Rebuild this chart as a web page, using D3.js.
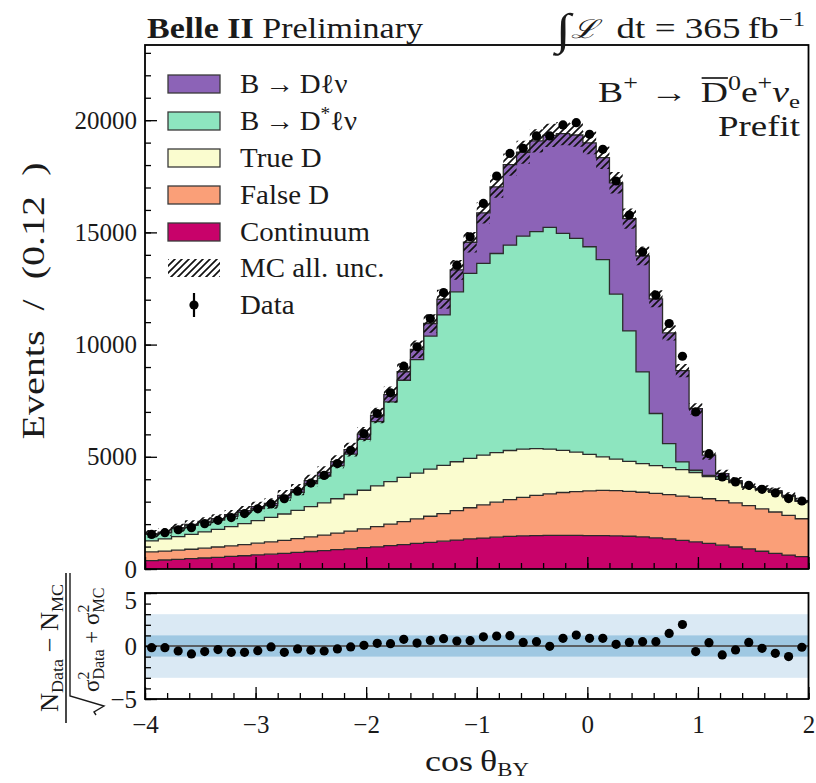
<!DOCTYPE html>
<html>
<head>
<meta charset="utf-8">
<script src="https://cdn.jsdelivr.net/npm/d3@7/dist/d3.min.js"></script>
<style>
  html, body { margin: 0; padding: 0; background: #ffffff; }
  svg { display: block; }
  text { font-family: "Liberation Serif", "DejaVu Serif", serif; fill: #1a1a1a; }
</style>
</head>
<body>
<svg id="chart" width="816" height="783"></svg>
<script>
// cos(theta_BY) binning: 50 bins of 0.12 from -4 to 2
const binStart = -4.0;
const binWidth = 0.12;

// stacked MC templates (events per bin), bottom to top
const continuum = [370, 400, 430, 460, 490, 520, 560, 590, 630, 660, 700, 740, 780, 820, 860, 900, 950, 990, 1040, 1090,
  1140, 1190, 1240, 1290, 1340, 1380, 1420, 1450, 1480, 1490, 1500, 1500, 1500, 1490, 1490, 1480, 1460, 1430, 1390, 1340,
  1280, 1210, 1140, 1060, 980, 900, 790, 700, 620, 550];
const falseD = [390, 400, 410, 420, 440, 460, 470, 500, 520, 550, 580, 610, 650, 690, 740, 790, 840, 900, 960, 1020,
  1090, 1160, 1230, 1310, 1390, 1480, 1560, 1640, 1710, 1790, 1850, 1910, 1950, 1990, 2010, 2010, 2000, 1990, 1980, 1970,
  1970, 1980, 1990, 1990, 1970, 1920, 1890, 1840, 1770, 1690];
const trueD = [490, 540, 600, 660, 720, 790, 860, 930, 1010, 1090, 1170, 1260, 1350, 1440, 1530, 1630, 1720, 1810, 1890, 1970,
  2040, 2100, 2150, 2180, 2200, 2210, 2210, 2190, 2150, 2080, 1990, 1880, 1760, 1630, 1500, 1410, 1340, 1280, 1240, 1210,
  1180, 1110, 990, 950, 900, 820, 850, 880, 840, 770];
const bToDstarLnu = [290, 270, 360, 400, 420, 410, 460, 500, 530, 520, 720, 810, 1020, 1190, 1470, 1800, 2270, 2870, 3560, 4330,
  5060, 5930, 6700, 7570, 8240, 8550, 8870, 9150, 9490, 9670, 9880, 9670, 9520, 9250, 8790, 7350, 5810, 4080, 2320, 1070,
  340, 100, 50, 120, 50, 20, 30, 40, 30, 20];
const bToDLnu = [30, 35, 40, 45, 50, 60, 70, 80, 90, 100, 110, 120, 140, 160, 180, 200, 230, 270, 320, 380,
  460, 560, 700, 980, 1390, 2250, 2970, 3590, 3740, 4050, 4100, 4440, 4610, 4630, 4540, 4960, 5000, 5170, 5110, 4930,
  4070, 2740, 900, 130, 40, 15, 25, 35, 25, 15];

// observed events per bin
const dataCounts = [1540, 1620, 1750, 1840, 2020, 2170, 2290, 2470, 2680, 2900, 3130, 3470, 3830, 4170, 4700, 5290, 6030, 6930, 7850, 9040,
  9900, 11160, 12320, 13540, 14800, 16290, 17510, 18520, 18750, 19300, 19300, 19790, 19890, 19370, 18700, 17290, 15770, 14130, 12200, 10940,
  9480, 7000, 5140, 4100, 3880, 3730, 3550, 3390, 3140, 3030];

// total MC uncertainty (half width of the hatched band)
const mcUncertainty = [170, 175, 180, 185, 190, 200, 205, 210, 220, 230, 240, 250, 260, 275, 290, 305, 320, 340, 360, 380,
  390, 410, 420, 440, 460, 470, 490, 500, 510, 520, 520, 520, 520, 510, 500, 480, 450, 420, 380, 340,
  300, 250, 200, 170, 160, 150, 145, 140, 135, 130];

// pulls (N_Data - N_MC) / sqrt(sigma_Data^2 + sigma_MC^2)
const pulls = [-0.16, -0.16, -0.47, -0.75, -0.53, -0.34, -0.60, -0.60, -0.44, -0.09, -0.60, -0.28, -0.40, -0.47, -0.28, -0.09, 0.06, 0.25, 0.22, 0.63,
  0.28, 0.53, 0.69, 0.47, 0.50, 0.87, 0.94, 0.97, 0.34, 0.41, -0.03, 0.72, 1.03, 0.72, 0.72, 0.16, 0.34, 0.41, 0.41, 1.19,
  2.03, -0.53, 0.31, -0.84, -0.37, 0.34, -0.22, -0.69, -1.00, -0.12];

const xTicksMajor = [-4, -3, -2, -1, 0, 1, 2];
const yTicksMain = [0, 5000, 10000, 15000, 20000];
const yTicksPull = [-5, 0, 5];

const components = [
  { key: "continuum", label: "Continuum", color: "#c8026a", values: continuum },
  { key: "falseD", label: "False D", color: "#fa9f78", values: falseD },
  { key: "trueD", label: "True D", color: "#fafccf", values: trueD },
  { key: "dstar", label: "B\u2009\u2192\u2009D*\u2113\u03BD", color: "#8de5bf", values: bToDstarLnu },
  { key: "d", label: "B\u2009\u2192\u2009D\u2113\u03BD", color: "#8c63b7", values: bToDLnu }
];

const svg = d3.select("#chart");
const left = 145, right = 808.5;
const mainTop = 45, mainBottom = 569;
const pullTop = 593, pullBottom = 699;

const x = d3.scaleLinear([-4, 2], [left, right]);
const y = d3.scaleLinear([0, 23350], [mainBottom, mainTop]);
const yp = d3.scaleLinear([-5, 5], [pullBottom, pullTop]);

const rows = dataCounts.map((n, i) => {
  const r = { i, x0: binStart + i * binWidth, x1: binStart + (i + 1) * binWidth, data: n, unc: mcUncertainty[i], pull: pulls[i] };
  components.forEach(c => { r[c.key] = c.values[i]; });
  return r;
});

const stack = d3.stack().keys(components.map(c => c.key));
const series = stack(rows);

const defs = svg.append("defs");
defs.append("clipPath").attr("id", "clipMain")
  .append("rect").attr("x", left).attr("y", mainTop).attr("width", right - left).attr("height", mainBottom - mainTop);
defs.append("clipPath").attr("id", "clipPull")
  .append("rect").attr("x", left).attr("y", pullTop).attr("width", right - left).attr("height", pullBottom - pullTop);
const pat = defs.append("pattern").attr("id", "hatch").attr("patternUnits", "userSpaceOnUse")
  .attr("width", 7).attr("height", 7);
pat.append("path").attr("d", "M-1,1 l2,-2 M0,7 l7,-7 M6,8 l2,-2")
  .attr("stroke", "#111").attr("stroke-width", 1.7).attr("fill", "none");

// step helpers: every bin contributes its two edges
const stepArea = d3.area().x(d => x(d.x)).y0(d => y(d.lo)).y1(d => y(d.hi));
const stepLine = d3.line().x(d => x(d.x)).y(d => y(d.hi));
function stepPoints(getLo, getHi) {
  return rows.flatMap(r => [
    { x: r.x0, lo: getLo(r), hi: getHi(r) },
    { x: r.x1, lo: getLo(r), hi: getHi(r) }
  ]);
}

const gMain = svg.append("g").attr("clip-path", "url(#clipMain)");

series.forEach((s, k) => {
  const pts = stepPoints(r => s[r.i][0], r => s[r.i][1]);
  gMain.append("path").attr("d", stepArea(pts)).attr("fill", components[k].color).attr("stroke", "none");
});
series.forEach((s, k) => {
  const pts = stepPoints(r => s[r.i][0], r => s[r.i][1]);
  gMain.append("path").attr("d", stepLine(pts)).attr("fill", "none")
    .attr("stroke", "#2b2b2b").attr("stroke-width", 1.3);
});

// total MC uncertainty band
const total = r => components.reduce((a, c) => a + r[c.key], 0);
gMain.append("path")
  .attr("d", stepArea(stepPoints(r => total(r) - r.unc, r => total(r) + r.unc)))
  .attr("fill", "url(#hatch)").attr("stroke", "none");

// data points with Poisson error bars
gMain.selectAll("line.err").data(rows).join("line")
  .attr("x1", r => x((r.x0 + r.x1) / 2)).attr("x2", r => x((r.x0 + r.x1) / 2))
  .attr("y1", r => y(r.data - Math.sqrt(r.data))).attr("y2", r => y(r.data + Math.sqrt(r.data)))
  .attr("stroke", "#000").attr("stroke-width", 2);
gMain.selectAll("circle.pt").data(rows).join("circle")
  .attr("cx", r => x((r.x0 + r.x1) / 2)).attr("cy", r => y(r.data)).attr("r", 4.6).attr("fill", "#000");

// axes of the main panel
const tickFont = 25;
function styleAxis(g) {
  g.select(".domain").remove();
  g.selectAll(".tick line").attr("stroke", "#000").attr("stroke-width", 1.3);
  g.selectAll(".tick text").attr("font-size", tickFont).attr("font-family", "Liberation Serif, serif").attr("fill", "#1a1a1a");
}
svg.append("g").attr("transform", `translate(${left},0)`)
  .call(d3.axisLeft(y).tickValues(d3.range(0, 23001, 1000)).tickSize(-6).tickFormat(""))
  .call(styleAxis);
svg.append("g").attr("transform", `translate(${left},0)`)
  .call(d3.axisLeft(y).tickValues(yTicksMain).tickSize(-12).tickPadding(8).tickFormat(d3.format("d")))
  .call(styleAxis);
svg.append("g").attr("transform", `translate(0,${mainBottom})`)
  .call(d3.axisBottom(x).tickValues(d3.range(-4, 2.001, 0.2)).tickSize(-6).tickFormat(""))
  .call(styleAxis);
svg.append("g").attr("transform", `translate(0,${mainBottom})`)
  .call(d3.axisBottom(x).tickValues(xTicksMajor).tickSize(-12).tickFormat(""))
  .call(styleAxis);

svg.append("rect").attr("x", left).attr("y", mainTop).attr("width", right - left).attr("height", mainBottom - mainTop)
  .attr("fill", "none").attr("stroke", "#000").attr("stroke-width", 1.8);

// pull panel
const gPull = svg.append("g").attr("clip-path", "url(#clipPull)");
gPull.append("rect").attr("x", left).attr("width", right - left)
  .attr("y", yp(3)).attr("height", yp(-3) - yp(3)).attr("fill", "#dae9f4");
gPull.append("rect").attr("x", left).attr("width", right - left)
  .attr("y", yp(1)).attr("height", yp(-1) - yp(1)).attr("fill", "#9fc8e2");
gPull.append("line").attr("x1", left).attr("x2", right).attr("y1", yp(0)).attr("y2", yp(0))
  .attr("stroke", "#5a5f63").attr("stroke-width", 2.2);
gPull.selectAll("circle").data(rows).join("circle")
  .attr("cx", r => x((r.x0 + r.x1) / 2)).attr("cy", r => yp(r.pull)).attr("r", 4.6).attr("fill", "#000");

svg.append("g").attr("transform", `translate(${left},0)`)
  .call(d3.axisLeft(yp).tickValues(d3.range(-5, 5.001, 1)).tickSize(-6).tickFormat(""))
  .call(styleAxis);
svg.append("g").attr("transform", `translate(${left},0)`)
  .call(d3.axisLeft(yp).tickValues(yTicksPull).tickSize(-12).tickPadding(8).tickFormat(d3.format("d")))
  .call(styleAxis)
  .call(g => g.selectAll(".tick text").attr("dy", d => d === 5 ? "0.62em" : "0.32em"));
svg.append("g").attr("transform", `translate(0,${pullBottom})`)
  .call(d3.axisBottom(x).tickValues(d3.range(-4, 2.001, 0.2)).tickSize(-6).tickFormat(""))
  .call(styleAxis);
svg.append("g").attr("transform", `translate(0,${pullBottom})`)
  .call(d3.axisBottom(x).tickValues(xTicksMajor).tickSize(-12).tickPadding(16).tickFormat(d3.format("d")))
  .call(styleAxis);
svg.append("rect").attr("x", left).attr("y", pullTop).attr("width", right - left).attr("height", pullBottom - pullTop)
  .attr("fill", "none").attr("stroke", "#000").attr("stroke-width", 1.8);

// widen a text element horizontally so it spans the given width
function fitWidth(sel, width) {
  sel.attr("textLength", width).attr("lengthAdjust", "spacingAndGlyphs");
  return sel;
}

// axis titles
fitWidth(svg.append("text").attr("transform", "translate(44,301) rotate(-90)")
  .attr("text-anchor", "middle").attr("font-size", 31)
  .text("Events\u2002/\u2002(0.12\u2002)"), 277);

const xl = svg.append("text").attr("x", 477).attr("y", 771).attr("text-anchor", "middle").attr("font-size", 30);
xl.append("tspan").text("cos\u2009\u03B8");
xl.append("tspan").attr("font-size", 19).attr("dy", 5).text("BY");
fitWidth(xl, 104);

// pull axis title: a fraction with a square root in the denominator
const gf = svg.append("g").attr("transform", "translate(66,648) rotate(-90)");
const num = gf.append("text").attr("x", 0).attr("y", -8).attr("text-anchor", "middle").attr("font-size", 25);
num.append("tspan").text("N");
num.append("tspan").attr("font-size", 17).attr("dy", 5).text("Data");
num.append("tspan").attr("dy", -5).text(" \u2212 N");
num.append("tspan").attr("font-size", 17).attr("dy", 5).text("MC");
fitWidth(num, 128);
gf.append("line").attr("x1", -75).attr("x2", 75).attr("y1", 0).attr("y2", 0).attr("stroke", "#1a1a1a").attr("stroke-width", 1.6);
gf.append("path").attr("d", "M75,4 L-48,4 L-58,38 L-64,28 L-67,30")
  .attr("fill", "none").attr("stroke", "#1a1a1a").attr("stroke-width", 1.4);
const den = gf.append("text").attr("x", -44).attr("y", 33).attr("font-size", 23);
den.append("tspan").text("\u03C3");
den.append("tspan").attr("font-size", 16).attr("dy", -10).text("2");
den.append("tspan").attr("font-size", 16).attr("dx", -8).attr("dy", 15).text("Data");
den.append("tspan").attr("dy", -5).text(" + \u03C3");
den.append("tspan").attr("font-size", 16).attr("dy", -10).text("2");
den.append("tspan").attr("font-size", 16).attr("dx", -8).attr("dy", 15).text("MC");

// header
const title = svg.append("text").attr("x", 147).attr("y", 38).attr("font-size", 29);
title.append("tspan").attr("font-weight", "bold").text("Belle II");
title.append("tspan").text(" Preliminary");
fitWidth(title, 276);

const lumi = svg.append("text").attr("x", 556).attr("y", 38).attr("font-size", 30);
lumi.append("tspan").attr("font-size", 44).attr("dy", 6).text("\u222B");
lumi.append("tspan").attr("font-family", "DejaVu Serif, serif").attr("font-style", "italic").attr("font-size", 26).attr("dy", -6).text("\u2112");
lumi.append("tspan").text("\u2002dt\u2005=\u2005365\u2009fb");
lumi.append("tspan").attr("font-size", 20).attr("dy", -12).text("\u22121");
fitWidth(lumi, 249);

// channel label
const chanY = 102;
const chan = svg.append("text").attr("x", 598).attr("y", chanY).attr("font-size", 29);
chan.append("tspan").text("B");
chan.append("tspan").attr("font-size", 20).attr("dy", -12).text("+");
chan.append("tspan").attr("dy", 12).text("\u2004\u2192\u2004D");
chan.append("tspan").attr("font-size", 20).attr("dy", -12).text("0");
chan.append("tspan").attr("dy", 12).text("e");
chan.append("tspan").attr("font-size", 20).attr("dy", -12).text("+");
chan.append("tspan").attr("dy", 12).attr("font-style", "italic").text("\u03BD");
chan.append("tspan").attr("font-size", 19).attr("dy", 6).text("e");
fitWidth(chan, 202);
{
  const node = chan.node();
  const idx = node.textContent.indexOf("D");
  const s = node.getStartPositionOfChar(idx);
  const e = node.getEndPositionOfChar(idx);
  svg.append("line").attr("x1", s.x + 1).attr("x2", e.x).attr("y1", chanY - 24).attr("y2", chanY - 24)
    .attr("stroke", "#1a1a1a").attr("stroke-width", 1.7);
}
fitWidth(svg.append("text").attr("x", 718).attr("y", 136).attr("font-size", 29).text("Prefit"), 82);

// legend
const legendRows = [
  { label: components[4].label, fill: components[4].color, kind: "box" },
  { label: components[3].label, fill: components[3].color, kind: "box" },
  { label: components[2].label, fill: components[2].color, kind: "box" },
  { label: components[1].label, fill: components[1].color, kind: "box" },
  { label: components[0].label, fill: components[0].color, kind: "box" },
  { label: "MC all. unc.", fill: "url(#hatch)", kind: "hatch" },
  { label: "Data", kind: "data" }
];
const legendY = [84, 121, 158, 195, 232, 268, 305];
const lg = svg.append("g");
legendRows.forEach((d, i) => {
  const cy = legendY[i];
  if (d.kind === "box") {
    lg.append("rect").attr("x", 168).attr("y", cy - 9).attr("width", 52).attr("height", 18)
      .attr("fill", d.fill).attr("stroke", "#3a3a3a").attr("stroke-width", 1.3);
  } else if (d.kind === "hatch") {
    lg.append("rect").attr("x", 168).attr("y", cy - 9).attr("width", 52).attr("height", 18).attr("fill", d.fill);
  } else {
    lg.append("line").attr("x1", 194).attr("x2", 194).attr("y1", cy - 12).attr("y2", cy + 12)
      .attr("stroke", "#000").attr("stroke-width", 2.2);
    lg.append("circle").attr("cx", 194).attr("cy", cy).attr("r", 4.6).attr("fill", "#000");
  }
  const t = lg.append("text").attr("x", 240).attr("y", cy + 9).attr("font-size", 27);
  if (d.label.indexOf("*") >= 0) {
    const parts = d.label.split("*");
    t.append("tspan").text(parts[0]);
    t.append("tspan").attr("font-size", 18).attr("dy", -10).text("*");
    t.append("tspan").attr("dy", 10).text(parts[1]);
  } else {
    t.text(d.label);
  }
  // slightly wider set, closer to the look of the axis fonts
  fitWidth(t, t.node().getComputedTextLength() * 1.07);
});
</script>
</body>
</html>
